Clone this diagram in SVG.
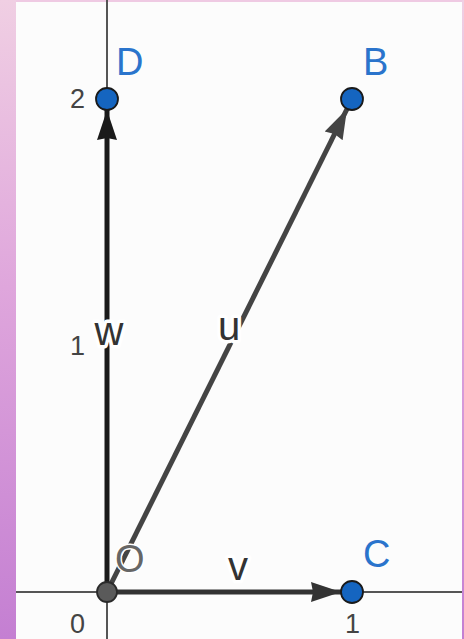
<svg xmlns="http://www.w3.org/2000/svg" width="464" height="639" viewBox="0 0 464 639">
  <defs>
    <linearGradient id="side" x1="0" y1="0" x2="0" y2="1">
      <stop offset="0" stop-color="#f0cfe3"/>
      <stop offset="0.45" stop-color="#dfa6dc"/>
      <stop offset="1" stop-color="#c47fd2"/>
    </linearGradient>
    <marker id="ahk" markerUnits="userSpaceOnUse" markerWidth="32" markerHeight="22" refX="30" refY="11" orient="auto">
      <path d="M0,1 L30,11 L0,21 L2,11 Z" fill="#1a1a1a"/>
    </marker>
    <marker id="ahg" markerUnits="userSpaceOnUse" markerWidth="32" markerHeight="22" refX="30" refY="11" orient="auto">
      <path d="M0,1 L30,11 L0,21 L2,11 Z" fill="#444"/>
    </marker>
    <marker id="ahv" markerUnits="userSpaceOnUse" markerWidth="32" markerHeight="22" refX="30" refY="11" orient="auto">
      <path d="M0,1 L30,11 L0,21 L2,11 Z" fill="#333"/>
    </marker>
  </defs>
  <style>
    .axis { stroke: #555; stroke-width: 2; fill: none; }
    .vec { stroke-width: 5; fill: none; stroke-linecap: butt; }
    .pt { fill: #1565c0; stroke: #1a1a1a; stroke-width: 1.8; }
    .plabel { font-family: "Liberation Sans", Arial, sans-serif; font-size: 38px; fill: #2a74cc; }
    .vlabel { font-family: "Liberation Sans", Arial, sans-serif; font-size: 40px; fill: #333; stroke: #fff; stroke-width: 7; paint-order: stroke; stroke-linejoin: round; text-anchor: middle; }
    .tick { font-family: "Liberation Sans", Arial, sans-serif; font-size: 27px; fill: #444; }
  </style>

  <rect x="0" y="0" width="464" height="639" fill="#fcfcfc"/>
  <rect x="0" y="0" width="464" height="2" fill="#efcae3"/>
  <rect x="0" y="0" width="16" height="639" fill="url(#side)"/>
  <rect x="462" y="0" width="2" height="639" fill="url(#side)"/>

  <g id="axes">
    <line class="axis" x1="16" y1="592" x2="462" y2="592"/>
    <line class="axis" x1="107" y1="0" x2="107" y2="639"/>
    <text class="tick" x="70" y="108">2</text>
    <text class="tick" x="70" y="355">1</text>
    <text class="tick" x="70" y="633">0</text>
    <text class="tick" x="345" y="633">1</text>
  </g>

  <g id="connectors">
    <line class="vec" x1="107" y1="592" x2="107" y2="110" stroke="#1a1a1a" marker-end="url(#ahk)"/>
    <line class="vec" x1="107" y1="592" x2="347" y2="109" stroke="#444" marker-end="url(#ahg)"/>
    <line class="vec" x1="107" y1="592" x2="341" y2="592" stroke="#333" marker-end="url(#ahv)"/>
    <text class="vlabel" x="109" y="345">w</text>
    <text class="vlabel" x="229" y="340">u</text>
    <text class="vlabel" x="238" y="580" stroke="none">v</text>
  </g>

  <g id="O">
    <circle cx="107" cy="592" r="10" fill="#5a5a5a" stroke="#2a2a2a" stroke-width="1.8"/>
    <text x="115" y="572" font-family="Liberation Sans, Arial, sans-serif" font-size="38" fill="#666" stroke="#fff" stroke-width="3" paint-order="stroke">O</text>
  </g>
  <g id="D">
    <circle class="pt" cx="107" cy="99" r="11"/>
    <text class="plabel" x="116" y="75">D</text>
  </g>
  <g id="B">
    <circle class="pt" cx="352" cy="99" r="11"/>
    <text class="plabel" x="363" y="75">B</text>
  </g>
  <g id="C">
    <circle class="pt" cx="352" cy="592" r="11"/>
    <text class="plabel" x="363" y="567">C</text>
  </g>
</svg>
